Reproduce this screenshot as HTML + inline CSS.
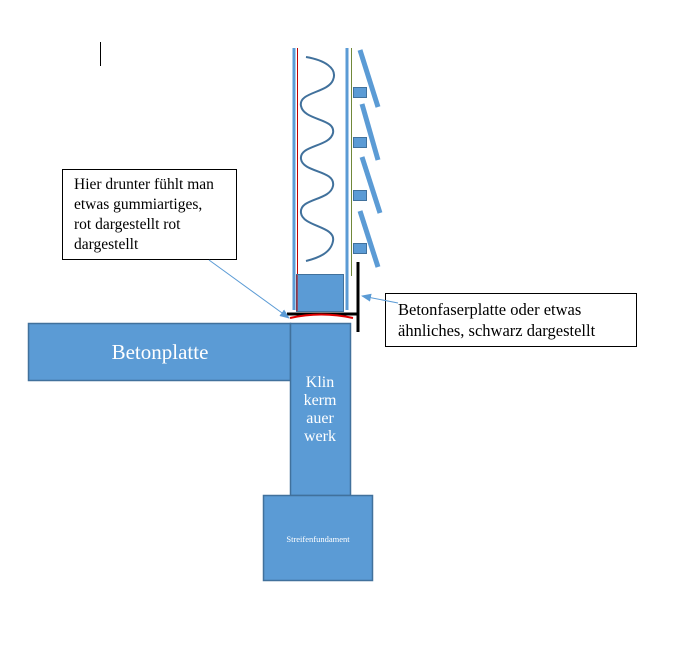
<!DOCTYPE html>
<html><head><meta charset="utf-8"><style>
html,body{margin:0;padding:0;background:#fff;}
svg{display:block;}
text{font-family:"Liberation Serif",serif;}
</style></head><body>
<svg width="690" height="653" viewBox="0 0 690 653" xmlns="http://www.w3.org/2000/svg">
<defs><marker id="ar" markerWidth="10" markerHeight="8" refX="9" refY="4" orient="auto" markerUnits="userSpaceOnUse"><path d="M0,0 L10,4 L0,8 z" fill="#5B9BD5"/></marker></defs>
<line x1="100.5" y1="42" x2="100.5" y2="66" stroke="#000" stroke-width="1"/>
<line x1="294" y1="48" x2="294" y2="310" stroke="#5B9BD5" stroke-width="3"/>
<line x1="297.5" y1="48" x2="297.5" y2="310" stroke="#C00000" stroke-width="1"/>
<line x1="347" y1="48" x2="347" y2="310" stroke="#5B9BD5" stroke-width="3"/>
<line x1="351.5" y1="48" x2="351.5" y2="276" stroke="#70883A" stroke-width="1"/>
<path d="M306,57 C324,60 338,68 333,80 C328,93 298,92 301,106 C304,121 336,118 333,133 C330,147 299,145 301,159 C303,173 336,170 333,186 C330,201 299,198 301,213 C303,227 336,226 333,241 C331,253 318,258 306,261" fill="none" stroke="#41719C" stroke-width="2"/>
<g fill="#5B9BD5" stroke="#41719C" stroke-width="1">
<rect x="353.5" y="87.5" width="13" height="10"/>
<rect x="353.5" y="137.5" width="13" height="10"/>
<rect x="353.5" y="190.5" width="13" height="10"/>
<rect x="353.5" y="243.5" width="13" height="10"/>
</g>
<g stroke="#5B9BD5" stroke-width="5">
<line x1="360" y1="50" x2="378" y2="107"/>
<line x1="362" y1="104" x2="378" y2="160"/>
<line x1="362" y1="157" x2="380" y2="213"/>
<line x1="360" y1="211" x2="378" y2="267"/>
</g>
<rect x="296.5" y="274.5" width="47" height="37" fill="#5B9BD5" stroke="#41719C"/>
<line x1="297" y1="275" x2="297" y2="311" stroke="#C00000" stroke-width="1"/>
<rect x="28.5" y="323.5" width="262" height="57" fill="#5B9BD5" stroke="#41719C" stroke-width="1.5"/>
<rect x="290.5" y="323.5" width="60" height="172" fill="#5B9BD5" stroke="#41719C" stroke-width="1.5"/>
<rect x="263.5" y="495.5" width="109" height="85" fill="#5B9BD5" stroke="#41719C" stroke-width="1.5"/>
<text x="160" y="359" font-size="21" fill="#fff" text-anchor="middle">Betonplatte</text>
<g font-size="16" fill="#fff" text-anchor="middle">
<text x="320" y="387">Klin</text>
<text x="320" y="405">kerm</text>
<text x="320" y="423">auer</text>
<text x="320" y="441">werk</text>
</g>
<text x="318" y="542" font-size="8.5" fill="#fff" text-anchor="middle">Streifenfundament</text>
<line x1="287" y1="314" x2="358" y2="314" stroke="#000" stroke-width="3"/>
<line x1="358" y1="262" x2="358" y2="332" stroke="#000" stroke-width="3"/>
<path d="M290,318 Q321,311 353,318" fill="none" stroke="#E00000" stroke-width="2"/>
<rect x="62.5" y="169.5" width="174" height="90" fill="#fff" stroke="#000"/>
<g font-size="15.5" fill="#000">
<text x="74" y="189">Hier drunter fühlt man</text>
<text x="74" y="209">etwas gummiartiges,</text>
<text x="74" y="229">rot dargestellt rot</text>
<text x="74" y="249">dargestellt</text>
</g>
<line x1="209" y1="260" x2="289" y2="318" stroke="#5B9BD5" stroke-width="1" marker-end="url(#ar)"/>
<rect x="385.5" y="293.5" width="251" height="53" fill="#fff" stroke="#000"/>
<g font-size="16.5" fill="#000">
<text x="398" y="315">Betonfaserplatte oder etwas</text>
<text x="398" y="336">ähnliches, schwarz dargestellt</text>
</g>
<line x1="398" y1="303" x2="362" y2="296" stroke="#5B9BD5" stroke-width="1" marker-end="url(#ar)"/>
</svg>
</body></html>
